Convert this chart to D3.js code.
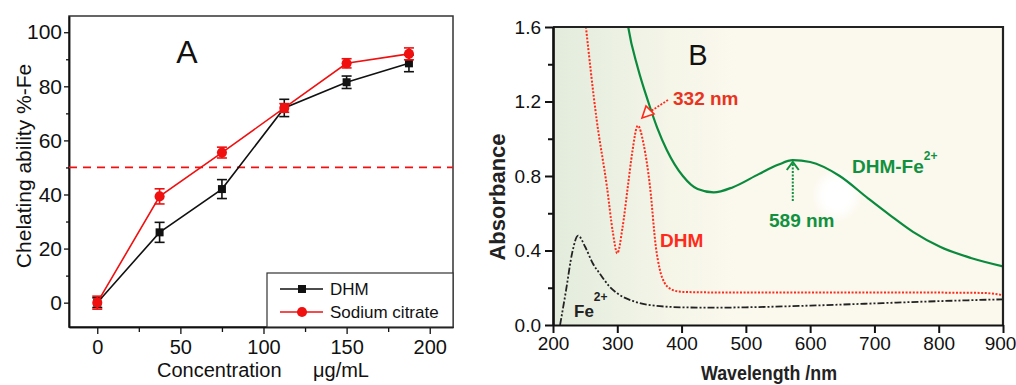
<!DOCTYPE html>
<html>
<head>
<meta charset="utf-8">
<script src="https://cdn.jsdelivr.net/npm/d3@7"></script>
<style>
  body { margin: 0; background: #fff; }
  svg text { font-family: "Liberation Sans", Arial, sans-serif; }
</style>
</head>
<body>
<div id="chart"></div>
<script>
// ---- panel A data (chelating ability) ----
var conc = [0, 37.5, 75, 112.5, 150, 187.5];
var dhmVal = [0, 26, 42, 72, 81.5, 88.5];
var dhmErr = [1.8, 3.7, 3.5, 3.2, 2.3, 3.1];
var citVal = [0, 39.3, 55.5, 72, 88.5, 92];
var citErr = [2.4, 2.8, 2, 1.6, 1.7, 2.2];
var halfLine = 50;
var xTicksA = [0, 50, 100, 150, 200];
var yTicksA = [0, 20, 40, 60, 80, 100];

// ---- panel B data (UV-vis spectra) ----
var dhmSpec = [[250, 1.64], [268, 1.1], [284, 0.74], [293, 0.5], [300, 0.385], [308, 0.52],
  [317, 0.76], [323, 0.92], [332, 1.07], [341, 0.97], [351, 0.74], [360, 0.42], [366, 0.3],
  [373, 0.23], [385, 0.19], [400, 0.178], [450, 0.175], [500, 0.175], [600, 0.175],
  [700, 0.175], [800, 0.174], [870, 0.172], [900, 0.16]];
var complexSpec = [[312, 1.72], [317, 1.6], [332, 1.38], [348, 1.2], [362, 1.06], [377, 0.94],
  [402, 0.8], [425, 0.73], [450, 0.712], [480, 0.74], [520, 0.81], [550, 0.86], [573, 0.885],
  [600, 0.875], [646, 0.8], [690, 0.68], [724, 0.59], [760, 0.5], [802, 0.42], [850, 0.36],
  [900, 0.315]];
var ironSpec = [[211, 0], [220, 0.18], [230, 0.39], [239, 0.48], [250, 0.42], [262, 0.33],
  [273, 0.275], [287, 0.21], [300, 0.17], [325, 0.128], [351, 0.107], [400, 0.095],
  [450, 0.093], [500, 0.095], [600, 0.104], [700, 0.116], [800, 0.128], [900, 0.138]];
var xTicksB = [200, 300, 400, 500, 600, 700, 800, 900];
var yTicksB = [0, 0.4, 0.8, 1.2, 1.6];

var svg = d3.select("#chart").append("svg")
  .attr("width", 1016).attr("height", 385);

// ================= panel A =================
var xA = d3.scaleLinear().domain([-17, 214]).range([69, 453]);
var yA = d3.scaleLinear().domain([-9, 106]).range([327, 16]);

var gA = svg.append("g");

// frame
gA.append("rect")
  .attr("x", 69).attr("y", 16).attr("width", 384).attr("height", 311)
  .attr("fill", "none").attr("stroke", "#333").attr("stroke-width", 1.5);

// axes with outward ticks
gA.append("g").attr("transform", "translate(0,327)")
  .call(d3.axisBottom(xA).tickValues([25, 75, 125, 175]).tickSize(5).tickSizeOuter(0).tickFormat(""));
gA.append("g").attr("transform", "translate(0,327)")
  .call(d3.axisBottom(xA).tickValues(xTicksA).tickSize(7).tickSizeOuter(0).tickPadding(6))
  .attr("font-size", 20);
gA.append("g").attr("transform", "translate(69,0)")
  .call(d3.axisLeft(yA).tickValues([10, 30, 50, 70, 90]).tickSize(3).tickSizeOuter(0).tickFormat(""));
gA.append("g").attr("transform", "translate(69,0)")
  .call(d3.axisLeft(yA).tickValues(yTicksA).tickSize(5).tickSizeOuter(0).tickPadding(2))
  .attr("font-size", 21);
gA.selectAll(".domain").attr("stroke", "#111").attr("stroke-width", 1.5);
gA.selectAll(".tick line").attr("stroke", "#111").attr("stroke-width", 1.3);
gA.selectAll(".tick text").attr("fill", "#111");

// 50% line
gA.append("line")
  .attr("x1", 69).attr("x2", 453).attr("y1", yA(halfLine)).attr("y2", yA(halfLine))
  .attr("stroke", "#f01010").attr("stroke-width", 1.8).attr("stroke-dasharray", "8,6");

function drawSeries(vals, errs, color, shape) {
  var pts = conc.map(function (c, i) { return { x: c, y: vals[i], e: errs[i] }; });
  gA.append("path").datum(pts)
    .attr("fill", "none").attr("stroke", color).attr("stroke-width", 1.6)
    .attr("d", d3.line().x(function (d) { return xA(d.x); }).y(function (d) { return yA(d.y); }));
  var eb = gA.append("g").attr("stroke", color).attr("stroke-width", 1.6);
  pts.forEach(function (d) {
    var cx = xA(d.x), t = yA(d.y + d.e), b = yA(d.y - d.e);
    eb.append("line").attr("x1", cx).attr("x2", cx).attr("y1", t).attr("y2", b);
    eb.append("line").attr("x1", cx - 5).attr("x2", cx + 5).attr("y1", t).attr("y2", t);
    eb.append("line").attr("x1", cx - 5).attr("x2", cx + 5).attr("y1", b).attr("y2", b);
  });
  var sym = d3.symbol().type(shape).size(shape === d3.symbolSquare ? 64 : 80);
  gA.append("g").selectAll("path").data(pts).enter().append("path")
    .attr("transform", function (d) { return "translate(" + xA(d.x) + "," + yA(d.y) + ")"; })
    .attr("d", sym).attr("fill", color);
}
drawSeries(dhmVal, dhmErr, "#111", d3.symbolSquare);
drawSeries(citVal, citErr, "#f01010", d3.symbolCircle);

// legend
var leg = gA.append("g");
leg.append("rect").attr("x", 267).attr("y", 273).attr("width", 186).attr("height", 54)
  .attr("fill", "#fff").attr("stroke", "#333").attr("stroke-width", 1.2);
[["DHM", "#111", d3.symbolSquare, 289], ["Sodium citrate", "#f01010", d3.symbolCircle, 312]]
  .forEach(function (l) {
    leg.append("line").attr("x1", 280).attr("x2", 323).attr("y1", l[3]).attr("y2", l[3])
      .attr("stroke", l[1]).attr("stroke-width", 1.6);
    leg.append("path").attr("transform", "translate(302," + l[3] + ")")
      .attr("d", d3.symbol().type(l[2]).size(l[2] === d3.symbolSquare ? 64 : 80)).attr("fill", l[1]);
    leg.append("text").attr("x", 330).attr("y", l[3] + 6).attr("font-size", 17)
      .attr("fill", "#111").text(l[0]);
  });

// labels
gA.append("text").attr("x", 187).attr("y", 63).attr("text-anchor", "middle")
  .attr("font-size", 32).attr("fill", "#111").text("A");
gA.append("text").attr("transform", "translate(31,166) rotate(-90)")
  .attr("text-anchor", "middle").attr("font-size", 21).attr("fill", "#111")
  .text("Chelating ability %-Fe");
gA.append("text").attr("x", 157).attr("y", 377).attr("font-size", 20).attr("fill", "#111")
  .text("Concentration");
gA.append("text").attr("x", 313).attr("y", 377).attr("font-size", 20).attr("fill", "#111")
  .text("\u03bcg/mL");

// ================= panel B =================
var xB = d3.scaleLinear().domain([200, 900]).range([553, 1003]);
var yB = d3.scaleLinear().domain([0, 1.6]).range([325, 27]);
var gB = svg.append("g");

var defs = svg.append("defs");
var grad = defs.append("linearGradient").attr("id", "bgB").attr("x1", 0).attr("x2", 1).attr("y1", 0).attr("y2", 0);
grad.append("stop").attr("offset", "0%").attr("stop-color", "#e3ecdc");
grad.append("stop").attr("offset", "12%").attr("stop-color", "#eaf0e2");
grad.append("stop").attr("offset", "26%").attr("stop-color", "#f5f5e8");
grad.append("stop").attr("offset", "40%").attr("stop-color", "#fbf8ed");
grad.append("stop").attr("offset", "100%").attr("stop-color", "#fbf8ed");
defs.append("clipPath").attr("id", "clipB").append("rect")
  .attr("x", 553).attr("y", 27).attr("width", 450).attr("height", 298);
defs.append("filter").attr("id", "blur").append("feGaussianBlur").attr("stdDeviation", 4);

gB.append("rect").attr("x", 553).attr("y", 27).attr("width", 450).attr("height", 298)
  .attr("fill", "url(#bgB)");
gB.append("ellipse").attr("cx", 837).attr("cy", 195).attr("rx", 20).attr("ry", 22)
  .attr("fill", "#fff").attr("filter", "url(#blur)");

var lineB = d3.line().curve(d3.curveMonotoneX)
  .x(function (d) { return xB(d[0]); }).y(function (d) { return yB(d[1]); });
var curves = gB.append("g").attr("clip-path", "url(#clipB)");
curves.append("path").datum(ironSpec).attr("d", lineB).attr("fill", "none")
  .attr("stroke", "#222").attr("stroke-width", 1.8).attr("stroke-dasharray", "7,2,2,2,2,2");
curves.append("path").datum(dhmSpec).attr("d", lineB).attr("fill", "none")
  .attr("stroke", "#ff2a1a").attr("stroke-width", 2).attr("stroke-dasharray", "2,1.6");
curves.append("path").datum(complexSpec).attr("d", lineB).attr("fill", "none")
  .attr("stroke", "#0a8a3c").attr("stroke-width", 2.2);

// frame top/right
gB.append("path").attr("d", "M553,27H1003V325").attr("fill", "none")
  .attr("stroke", "#222").attr("stroke-width", 2.2);

var xAxB = gB.append("g").attr("transform", "translate(0,325)")
  .call(d3.axisBottom(xB).tickValues(xTicksB).tickSize(8).tickSizeOuter(0).tickPadding(4))
  .attr("font-size", 19);
// last label sits at the right edge of the page: pull it in a little
xAxB.selectAll(".tick text").filter(function (d) { return d === 900; }).attr("dx", -3);
gB.append("g").attr("transform", "translate(553,0)")
  .call(d3.axisLeft(yB).tickValues([0.2, 0.6, 1.0, 1.4]).tickSize(5).tickSizeOuter(0).tickFormat(""));
gB.append("g").attr("transform", "translate(553,0)")
  .call(d3.axisLeft(yB).tickValues(yTicksB).tickSize(8).tickSizeOuter(0).tickPadding(4)
    .tickFormat(d3.format(".1f")))
  .attr("font-size", 19);
gB.selectAll(".domain").attr("stroke", "#111").attr("stroke-width", 2.2);
gB.selectAll(".tick line").attr("stroke", "#111").attr("stroke-width", 2);
gB.selectAll(".tick text").attr("fill", "#111");

gB.append("text").attr("x", 698).attr("y", 65).attr("text-anchor", "middle")
  .attr("font-size", 29).attr("fill", "#111").text("B");
gB.append("text").attr("x", 769).attr("y", 380).attr("text-anchor", "middle")
  .attr("font-size", 21).attr("font-weight", "bold").attr("fill", "#222")
  .attr("textLength", 136).attr("lengthAdjust", "spacingAndGlyphs").text("Wavelength /nm");
gB.append("text").attr("transform", "translate(505,197) rotate(-90)")
  .attr("text-anchor", "middle").attr("font-size", 22).attr("font-weight", "bold")
  .attr("fill", "#222").text("Absorbance");

// annotations
gB.append("text").attr("x", 673).attr("y", 105).attr("font-size", 19)
  .attr("font-weight", "bold").attr("fill", "#e8341e").text("332 nm");
gB.append("line").attr("x1", 668).attr("y1", 100).attr("x2", 648).attr("y2", 113)
  .attr("stroke", "#ff2a1a").attr("stroke-width", 1.8).attr("stroke-dasharray", "2,1.5");
gB.append("path").attr("d", "M642,118L646,106L654,114Z").attr("fill", "#fbf8ed")
  .attr("stroke", "#ff2a1a").attr("stroke-width", 1.6);

var t1 = gB.append("text").attr("x", 852).attr("y", 173)
  .attr("font-size", 19).attr("font-weight", "bold").attr("fill", "#119140");
t1.append("tspan").text("DHM-Fe");
t1.append("tspan").attr("dy", -13).attr("font-size", 12).text("2+");
gB.append("text").attr("x", 769).attr("y", 227).attr("font-size", 19)
  .attr("font-weight", "bold").attr("fill", "#119140").text("589 nm");
gB.append("line").attr("x1", xB(573)).attr("x2", xB(573)).attr("y1", 201).attr("y2", 164)
  .attr("stroke", "#119140").attr("stroke-width", 2).attr("stroke-dasharray", "2,1.5");
gB.append("path").attr("d", "M" + (xB(573) - 6) + ",170L" + xB(573) + ",162L" + (xB(573) + 6) + ",170")
  .attr("fill", "none").attr("stroke", "#119140").attr("stroke-width", 2);

gB.append("text").attr("x", 660).attr("y", 247).attr("font-size", 19)
  .attr("font-weight", "bold").attr("fill", "#ff2a1a").text("DHM");
var t2 = gB.append("text").attr("x", 574).attr("y", 317)
  .attr("font-size", 17).attr("font-weight", "bold").attr("fill", "#222");
t2.append("tspan").text("Fe");
t2.append("tspan").attr("dy", -16).attr("font-size", 12).text("2+");
</script>
</body>
</html>
